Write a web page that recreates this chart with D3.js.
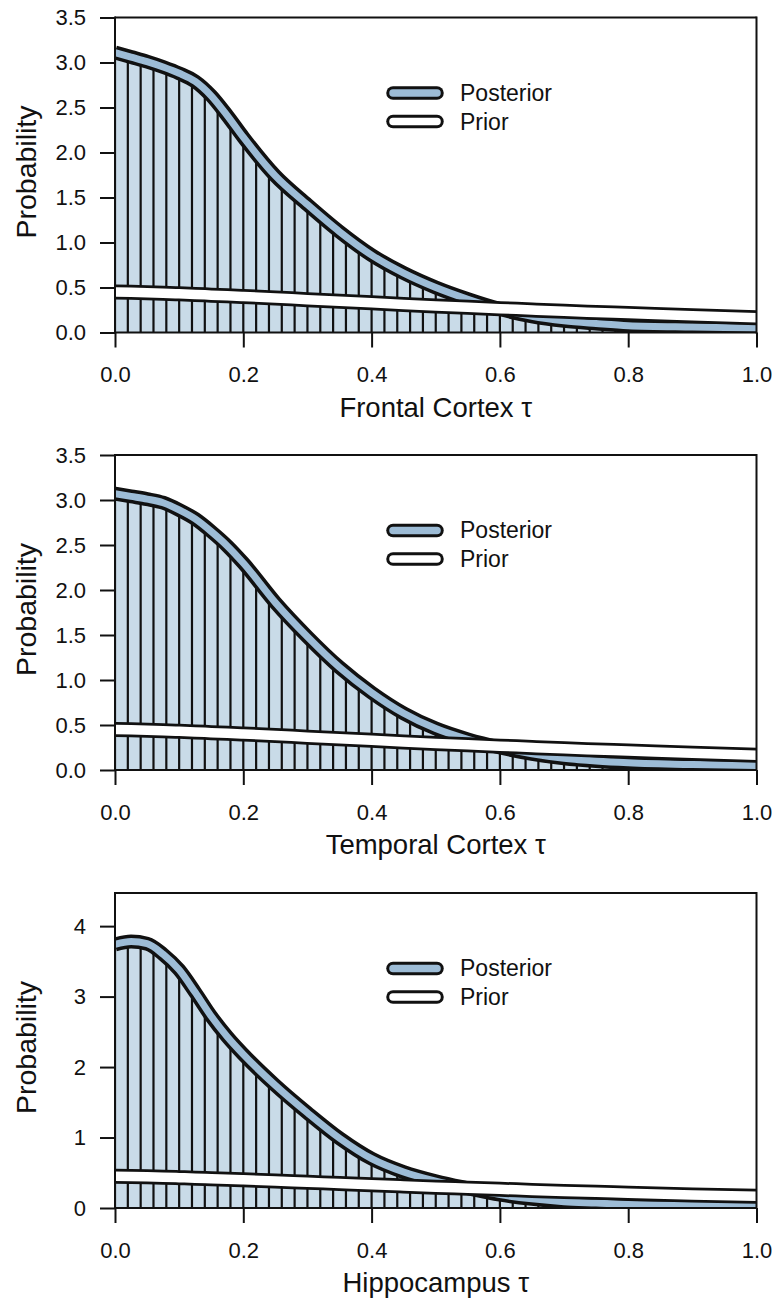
<!DOCTYPE html>
<html><head><meta charset="utf-8">
<script src="https://cdn.jsdelivr.net/npm/d3@7"></script>
<style>body{margin:0;background:#fff}svg{display:block}</style>
</head><body>
<svg id="chart" width="776" height="1300"></svg>
<script>
// ---- data ----
const tau = [0, 0.025, 0.05, 0.075, 0.1, 0.125, 0.15, 0.175, 0.2, 0.25, 0.3, 0.35, 0.4, 0.45, 0.5, 0.55, 0.6, 0.65, 0.7, 0.75, 0.8, 0.9, 1.0];
const priorDensity = [0.45, 0.447, 0.443, 0.437, 0.43, 0.423, 0.415, 0.408, 0.40, 0.383, 0.365, 0.348, 0.33, 0.312, 0.295, 0.28, 0.265, 0.25, 0.235, 0.222, 0.21, 0.185, 0.165];
const frontalPosterior = [3.11, 3.06, 3.01, 2.95, 2.88, 2.79, 2.63, 2.41, 2.17, 1.74, 1.42, 1.12, 0.86, 0.66, 0.50, 0.37, 0.26, 0.18, 0.13, 0.10, 0.075, 0.06, 0.05];
const temporalPosterior = [3.07, 3.04, 3.01, 2.97, 2.89, 2.79, 2.65, 2.49, 2.30, 1.86, 1.48, 1.14, 0.86, 0.63, 0.46, 0.34, 0.25, 0.18, 0.13, 0.10, 0.08, 0.06, 0.05];
const hippocampusPosterior = [3.74, 3.78, 3.75, 3.60, 3.38, 3.06, 2.72, 2.43, 2.18, 1.74, 1.35, 0.99, 0.70, 0.51, 0.38, 0.28, 0.19, 0.13, 0.09, 0.07, 0.05, 0.04, 0.03];
const panelTitles = ["Frontal Cortex \u03c4", "Temporal Cortex \u03c4", "Hippocampus \u03c4"];
const panelPosteriors = [frontalPosterior, temporalPosterior, hippocampusPosterior];
const panelYMax = [3.5, 3.5, 4.47];
const yTicksA = [0, 0.5, 1.0, 1.5, 2.0, 2.5, 3.0, 3.5];
const yTicksB = [0, 1, 2, 3, 4];
const panelYTicks = [yTicksA, yTicksA, yTicksB];
const panelYFormat = [".1f", ".1f", "d"];
const xTicks = [0, 0.2, 0.4, 0.6, 0.8, 1.0];
const hatchStep = 0.02;
const legendLabels = ["Posterior", "Prior"];

// ---- layout ----
const FONT = "'Liberation Sans', Arial, sans-serif";
const svg = d3.select("#chart");
const X0 = 115, X1 = 756.5;
const tops = [17.5, 455, 893];
const PH = 315;
const postFill = "#c9dbe8";
const postLine = "#9dbcd6";
const INK = "#111";

const x = d3.scaleLinear().domain([0, 1]).range([X0, X1]);
const defs = svg.append("defs");
const hatchX = d3.range(0, 1 + 1e-9, hatchStep);

panelTitles.forEach((title, i) => {
  const top = tops[i], base = top + PH;
  const y = d3.scaleLinear().domain([0, panelYMax[i]]).range([base, top]);
  const g = svg.append("g");
  const clipId = "clip" + i, areaClipId = "aclip" + i;
  defs.append("clipPath").attr("id", clipId).append("rect")
    .attr("x", X0).attr("y", top).attr("width", X1 - X0).attr("height", PH);

  const post = tau.map((t, k) => [t, panelPosteriors[i][k]]);
  const prior = tau.map((t, k) => [t, priorDensity[k]]);
  const curve = d3.curveMonotoneX;
  const area = d3.area().x(d => x(d[0])).y0(y(0)).y1(d => y(d[1])).curve(curve);
  const line = d3.line().x(d => x(d[0])).y(d => y(d[1])).curve(curve);

  defs.append("clipPath").attr("id", areaClipId).append("path").attr("d", area(post));

  const pg = g.append("g").attr("clip-path", `url(#${clipId})`);
  const hg = pg.append("g").attr("clip-path", `url(#${areaClipId})`);
  hg.append("path").attr("d", area(post)).attr("fill", postFill);
  hg.selectAll("line.h").data(hatchX).join("line").attr("class", "h")
    .attr("x1", d => x(d)).attr("x2", d => x(d))
    .attr("y1", y(0)).attr("y2", top)
    .attr("stroke", INK).attr("stroke-width", 2.2);

  pg.append("path").attr("d", line(post)).attr("fill", "none").attr("stroke", INK).attr("stroke-width", 14).attr("stroke-linejoin", "round");
  pg.append("path").attr("d", line(post)).attr("fill", "none").attr("stroke", postLine).attr("stroke-width", 7).attr("stroke-linejoin", "round");
  pg.append("path").attr("d", line(prior)).attr("fill", "none").attr("stroke", INK).attr("stroke-width", 15).attr("stroke-linejoin", "round");
  pg.append("path").attr("d", line(prior)).attr("fill", "none").attr("stroke", "#fff").attr("stroke-width", 9.5).attr("stroke-linejoin", "round");

  // frame lines
  const ax = g.append("g").attr("stroke", INK).attr("stroke-width", 2).attr("fill", "none");
  ax.append("line").attr("x1", X0).attr("x2", X1).attr("y1", top).attr("y2", top);
  ax.append("line").attr("x1", X0).attr("x2", X1).attr("y1", base).attr("y2", base);
  ax.append("line").attr("x1", X0).attr("x2", X0).attr("y1", top - 1).attr("y2", base + 1);
  ax.append("line").attr("x1", X1).attr("x2", X1).attr("y1", top - 1).attr("y2", base + 1);

  // y axis
  const yAxis = d3.axisLeft(y).tickValues(panelYTicks[i]).tickFormat(d3.format(panelYFormat[i]))
    .tickSize(15).tickPadding(14);
  const ya = g.append("g").attr("transform", `translate(${X0},0)`).call(yAxis);
  ya.select(".domain").remove();
  ya.selectAll(".tick line").attr("stroke", INK).attr("stroke-width", 2);
  ya.selectAll(".tick text").attr("font-family", FONT).attr("font-size", 22).attr("fill", INK);

  // x axis
  const xAxis = d3.axisBottom(x).tickValues(xTicks).tickFormat(d3.format(".1f"))
    .tickSize(15).tickPadding(19);
  const xa = g.append("g").attr("transform", `translate(0,${base})`).call(xAxis);
  xa.select(".domain").remove();
  xa.selectAll(".tick line").attr("stroke", INK).attr("stroke-width", 2);
  xa.selectAll(".tick text").attr("font-family", FONT).attr("font-size", 22).attr("fill", INK);

  // titles
  g.append("text").attr("x", (X0 + X1) / 2).attr("y", base + 84)
    .attr("text-anchor", "middle").attr("font-family", FONT).attr("font-size", 27.5).attr("fill", INK).text(title);
  g.append("text").attr("transform", `translate(36,${(top + base) / 2 - 3}) rotate(-90)`)
    .attr("text-anchor", "middle").attr("font-family", FONT).attr("font-size", 28.5).attr("fill", INK).text("Probability");

  // legend
  const lg = g.append("g");
  legendLabels.forEach((lab, k) => {
    const ly = top + 75.4 + k * 28.6;
    lg.append("line").attr("x1", 393).attr("x2", 437).attr("y1", ly).attr("y2", ly)
      .attr("stroke", INK).attr("stroke-width", 13.5).attr("stroke-linecap", "round");
    lg.append("line").attr("x1", 393).attr("x2", 437).attr("y1", ly).attr("y2", ly)
      .attr("stroke", k === 0 ? postLine : "#fff").attr("stroke-width", 7.5).attr("stroke-linecap", "round");
    lg.append("text").attr("x", 460).attr("y", ly).attr("dy", "0.35em")
      .attr("font-family", FONT).attr("font-size", 23).attr("fill", INK).text(lab);
  });
});
</script>
</body></html>
